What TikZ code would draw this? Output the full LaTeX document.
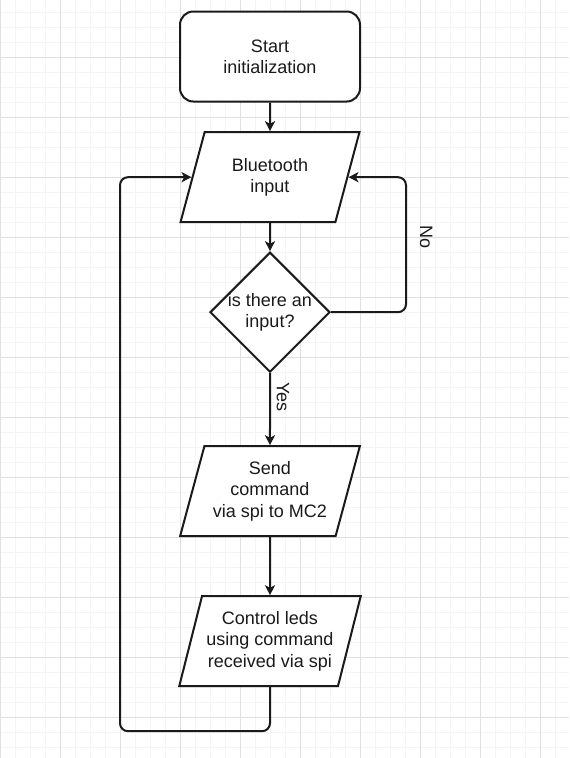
\documentclass[tikz,border=0pt]{standalone}
\usepackage{fontspec}
\setmainfont{Liberation Sans}
\usetikzlibrary{shapes.geometric, arrows.meta, positioning}
\definecolor{ink}{HTML}{1A1A1A}
\definecolor{gridmajor}{HTML}{E0E0E0}
\definecolor{gridminor}{HTML}{F4F4F4}
\newcommand{\lbl}{\fontsize{13.5}{16}\selectfont}
\tikzset{
  startbox/.style={rectangle, rounded corners=10pt, draw=ink, line width=1.5pt, fill=white, align=center, minimum width=135pt, minimum height=67.5pt, font=\lbl, text=ink},
  io/.style={trapezium, trapezium left angle=71.57, trapezium right angle=108.43, trapezium stretches=true, draw=ink, line width=1.5pt, fill=white, align=center, minimum width=135pt, minimum height=67.5pt, font=\lbl, text=ink},
  decision/.style={diamond, aspect=1, draw=ink, line width=1.5pt, fill=white, align=center, minimum size=90pt, inner sep=-1pt, font=\lbl, text=ink},
  arr/.style={-{Stealth[length=7.5pt, width=7.5pt, inset=2pt]}, line width=1.5pt, draw=ink, rounded corners=6pt},
  side/.style={rotate=-90, anchor=south, outer sep=0pt, font=\lbl, text=ink},
}

\begin{document}
\begin{tikzpicture}[x=0.75pt, y=-0.75pt]
\useasboundingbox (0,0) rectangle (569,758);
% background grid
\fill[white] (0,0) rectangle (569,758);
\foreach \gx in {15,30,...,555} \draw[gridminor, line width=0.6pt] (\gx,0) -- (\gx,758);
\foreach \gy in {12,27,...,747} \draw[gridminor, line width=0.6pt] (0,\gy) -- (569,\gy);
\foreach \gx in {0,60,...,540} \draw[gridmajor, line width=0.6pt] (\gx,0) -- (\gx,758);
\foreach \gy in {57,117,...,717} \draw[gridmajor, line width=0.6pt] (0,\gy) -- (569,\gy);

\node[startbox] (start) at (270,56.5) {Start\\initialization};
\node[io, below=21.5pt of start] (bt) {Bluetooth\\input};
\node[decision, below=21pt of bt] (dec) {is there an\\input?};
\node[io, below=54pt of dec] (send) {Send\\command\\via spi to MC2};
\node[io, below=43.5pt of send] (ctrl) {Control leds\\using command\\received via spi};

\draw[arr] (start) -- (bt);
\draw[arr] (bt) -- (dec);
\draw[arr] (dec.east) -- ++(75,0) |- node[side, pos=0.28, inner sep=10.5pt] {No} (bt.east);
\draw[arr] (dec) -- node[side, pos=0.33, inner sep=5pt] {Yes} (send);
\draw[arr] (send) -- (ctrl);
\draw[arr] (ctrl.south) -- ++(0,44) -- ++(-150,0) |- (bt.west);
\end{tikzpicture}
\end{document}
